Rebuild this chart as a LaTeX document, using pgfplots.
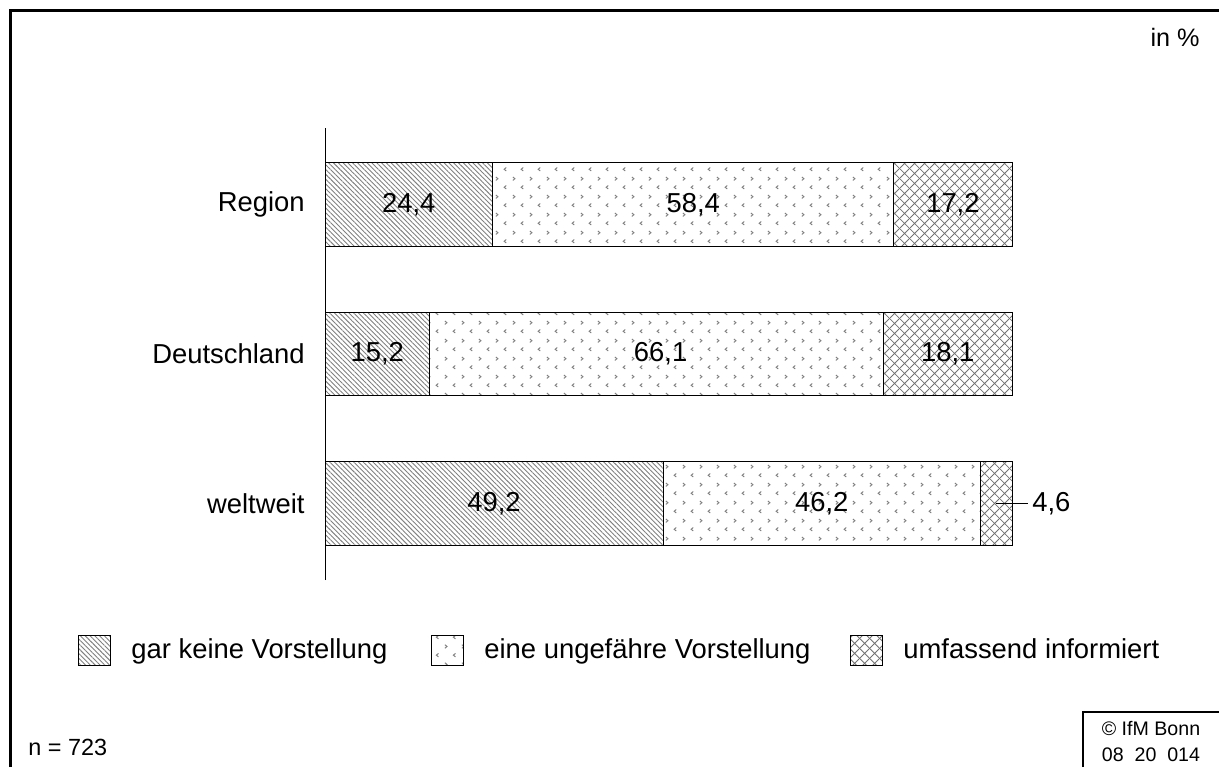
\documentclass[border=0pt]{standalone}
\usepackage{pgfplots}
\pgfplotsset{compat=1.18}
\usepackage{fontspec}
\setmainfont{Liberation Sans}
\usetikzlibrary{patterns,patterns.meta}

\tikzdeclarepattern{
  name=chev, type=uncolored,
  bounding box={(0pt,0pt) and (8.5pt,9pt)},
  tile size={(8.5pt,9pt)},
  code={
    \draw[line width=0.5pt] (1.5pt,7.9pt) -- (2.6pt,7pt) -- (1.5pt,6.1pt);
    \draw[line width=0.5pt] (7pt,3.4pt) -- (5.9pt,2.5pt) -- (7pt,1.6pt);
  }
}
\tikzdeclarepattern{
  name=dcross, type=uncolored,
  bounding box={(0pt,0pt) and (5pt,5pt)},
  tile size={(5pt,5pt)},
  code={
    \draw[line width=0.45pt] (-0.5pt,-0.5pt) -- (5.5pt,5.5pt) (-0.5pt,5.5pt) -- (5.5pt,-0.5pt);
  }
}

\newcommand{\bigf}{\fontsize{13.7}{16}\selectfont}

\begin{document}
\begin{tikzpicture}
\path[use as bounding box] (0pt,0pt) rectangle (609.5pt,383.5pt);
% frame
\draw[line width=1.6pt] (5.25pt,0pt) -- (5.25pt,378.25pt) -- (609.5pt,378.25pt);
\draw[line width=1.2pt] (541.5pt,0pt) -- (541.5pt,27.5pt) -- (609.5pt,27.5pt);
\node[anchor=east, font=\fontsize{12.6}{15}\selectfont, inner sep=0pt] at (600pt,365pt) {in \%};
\node[anchor=west, font=\fontsize{11.7}{14}\selectfont, inner sep=0pt] at (14pt,10pt) {n = 723};
\node[font=\fontsize{9.8}{12}\selectfont, inner sep=0pt] at (575.5pt,19.5pt) {© IfM Bonn};
\node[font=\fontsize{9.8}{12}\selectfont, inner sep=0pt] at (575.5pt,6pt) {08\ \ 20\ \ 014};

\begin{axis}[
  at={(162.5pt,93.5pt)}, anchor=south west,
  scale only axis, width=343.5pt, height=226pt,
  xbar stacked, bar width=0.56,
  xmin=0, xmax=100, ymin=-0.51, ymax=2.51,
  axis x line=none, axis y line*=left,
  y axis line style={-, line width=0.5pt},
  ytick={0,1,2}, yticklabels={weltweit,Deutschland,Region},
  major tick length=0pt,
  yticklabel style={font=\bigf, inner sep=0pt, xshift=-10pt},
  legend columns=3,
  legend style={at={(axis description cs:-0.3595,-0.1549)}, anchor=west,
     draw=none, fill=none, inner sep=0pt, font=\bigf,
     nodes={inner sep=0pt, text depth=0.15em}, cells={anchor=west},
     /tikz/every odd column/.style={column sep=10pt},
     /tikz/every even column/.style={column sep=0pt}},
  legend image code/.code={\draw[#1, line width=0.5pt] (0pt,-7.5pt) rectangle (16pt,7.5pt);},
  clip=false,
]
\addplot[draw=black, line width=0.5pt, pattern={Lines[angle=-45,distance=1.7pt,line width=0.45pt]}, pattern color=gray]
  coordinates {(49.2,0) (15.2,1) (24.4,2)};
\addlegendentry{\makebox[150pt][l]{gar keine Vorstellung}}
\addplot[draw=black, line width=0.5pt, pattern=chev, pattern color=gray]
  coordinates {(46.2,0) (66.1,1) (58.4,2)};
\addlegendentry{\makebox[183pt][l]{eine ungefähre Vorstellung}}
\addplot[draw=black, line width=0.5pt, pattern=dcross, pattern color=gray!90!black]
  coordinates {(4.6,0) (18.7,1) (17.2,2)};
\addlegendentry{umfassend informiert}
\end{axis}

\begin{axis}[
  at={(162.5pt,93.5pt)}, anchor=south west,
  scale only axis, width=343.5pt, height=226pt,
  xmin=0, xmax=100, ymin=-0.51, ymax=2.51,
  hide axis, clip=false,
  point meta=explicit symbolic,
  nodes near coords,
  every node near coord/.append style={anchor=center, font=\bigf, text=black, inner sep=0pt},
]
\addplot[only marks, mark=none] coordinates {
  (12.2,2) [24,4] (53.6,2) [58,4] (91.4,2) [17,2]
  (7.6,1) [15,2] (48.85,1) [66,1] (90.65,1) [18,1]
  (24.6,0) [49,2] (72.3,0) [46,2]};
\draw[line width=0.5pt] (axis cs:97.6,0) -- (axis cs:102.3,0) node[right, font=\bigf, inner sep=2pt] {4,6};
\end{axis}
\end{tikzpicture}
\end{document}
